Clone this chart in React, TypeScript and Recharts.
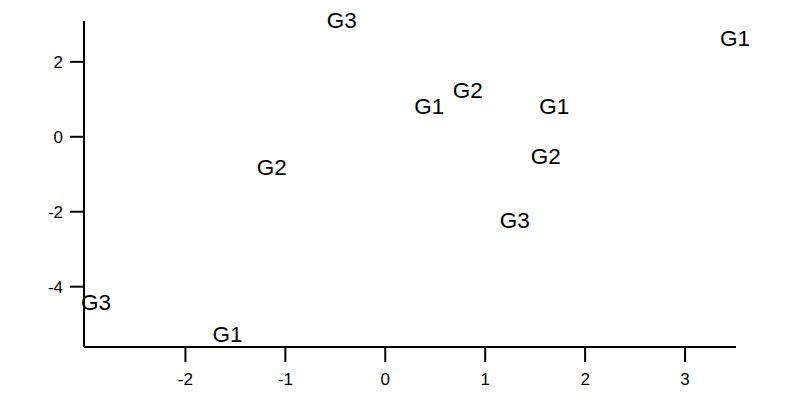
import { ScatterChart, Scatter, XAxis, YAxis } from 'recharts'

// Score-plot: elk punt wordt als groepslabel getekend in plaats van een stip.
const LABELS = ['G3', 'G1', 'G2', 'G1', 'G1', 'G2', 'G2', 'G3', 'G3', 'G1']
const XS = [-0.435, 3.5, 0.825, 0.44, 1.69, 1.605, -1.135, 1.295, -2.895, -1.58]
const YS = [3.09, 2.59, 1.22, 0.79, 0.79, -0.56, -0.85, -2.25, -4.45, -5.3]
const X_TICKS = [-2, -1, 0, 1, 2, 3]
const Y_TICKS = [-4, -2, 0, 2]

const FONT = '"Liberation Sans", Arial, Helvetica, sans-serif'
const ZWART = '#000000'

const punten = LABELS.map((label, i) => ({ label, x: XS[i], y: YS[i] }))

// Labels mogen buiten het plotvlak uitsteken, dus geen allowDataOverflow (die knipt).
function LabelVorm(props: any) {
  const { cx, cy, payload } = props
  return (
    <text
      x={cx}
      y={cy}
      dy={-1}
      textAnchor="middle"
      dominantBaseline="central"
      fontFamily={FONT}
      fontSize={22.5}
      fill={ZWART}
    >
      {payload.label}
    </text>
  )
}

export default function App() {
  return (
    <div style={{ position: 'absolute', left: 0, top: 0, background: '#fff' }}>
      <ScatterChart width={790} height={416} margin={{ top: 21, right: 54, bottom: 39, left: 0 }}>
        <XAxis
          type="number"
          dataKey="x"
          domain={[-3.015, 3.51]}
          ticks={X_TICKS}
          height={30}
          stroke={ZWART}
          strokeWidth={2}
          tickSize={15}
          tickMargin={11}
          tick={{ fill: ZWART, fontSize: 17, fontFamily: FONT }}
        />
        <YAxis
          type="number"
          dataKey="y"
          domain={[-5.61, 3.09]}
          ticks={Y_TICKS}
          width={84}
          stroke={ZWART}
          strokeWidth={2}
          tickSize={14}
          tickMargin={7}
          tick={{ fill: ZWART, fontSize: 17, fontFamily: FONT }}
        />
        <Scatter data={punten} shape={LabelVorm} isAnimationActive={false} />
      </ScatterChart>
    </div>
  )
}
